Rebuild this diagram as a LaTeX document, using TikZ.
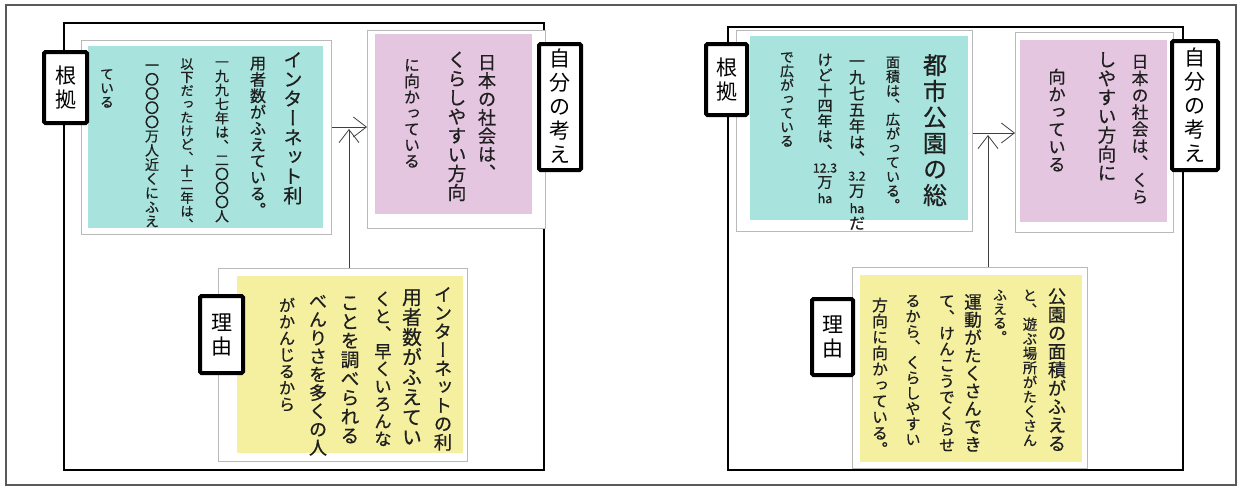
\documentclass[tikz,border=0pt]{standalone}
\usepackage{fontspec}
\usetikzlibrary{arrows.meta}
\newfontfamily\jp[RawFeature=+vert, FakeBold=0.6]{Noto Sans CJK JP}
\newfontfamily\jpl{Noto Sans CJK JP}
\definecolor{nblue}{RGB}{168,228,221}
\definecolor{npink}{RGB}{229,198,225}
\definecolor{nyellow}{RGB}{245,240,160}
\newcount\vi
\def\vend{\vend}
\def\vfs{16}
% label stacking (inside one node)
\newdimen\vadv
\def\vcell#1{\vbox to\vadv{\vss\hbox to 1em{\hss\vrule height .88em depth .12em width 0pt #1\hss}\vss}}
\def\vcolA#1{\ifx\vend#1\else\vcell{#1}\expandafter\vcolA\fi}
\newcommand\vcolS[3]{\vbox{\offinterlineskip\vadv=#2\relax\fontsize{#1}{#1}\selectfont\vcolA#3\vend}}
% handwritten columns: one node per character
\newcommand\vcolumn[5]{\def\vname{#1}\def\vx{#2}\def\vtop{#3}\def\vadvn{#4}\vi=0
 \pgfmathsetmacro\vfs{min(24,0.99*#4)}\vcolB#5\vend}
\def\vcolB#1{\ifx\vend#1\expandafter\vcolstop\else\expandafter\vcolput\fi{#1}}
\def\vcolstop#1{}
\def\vcolput#1{\advance\vi by 1\relax
 \node[hwc] (\vname-\the\vi) at (\vx,{\vtop+(\the\vi-0.5)*\vadvn}) {\vrule height .88em depth .12em width 0pt #1};\vcolB}
\newcommand\tcy[1]{{\fontsize{12.5pt}{12.5pt}\selectfont #1}}
\tikzset{
 paper/.style={rectangle, draw=gray!55, line width=0.8pt, fill=white, anchor=north west, inner sep=0pt},
 notefill/.style={rectangle, anchor=north west, inner sep=0pt, draw=none},
 lab/.style={rectangle, draw=black, line width=4pt, fill=white, rounded corners=1.5pt, inner sep=0pt, anchor=north west, font=\jpl},
 hwc/.style={anchor=center, inner sep=0pt, font={\jp\fontsize{\vfs pt}{\vfs pt}\selectfont}, text=black!88},
 conn/.style={draw=black!75, line width=0.8pt, -{Straight Barb[length=13pt,width=20pt,line width=0.8pt]}},
 frm/.style={draw=black, line width=1.6pt},
}
\begin{document}
\begin{tikzpicture}[x=1pt,y=-1pt]
\useasboundingbox (0,0) rectangle (1241,488);
\fill[white] (0,0) rectangle (1241,488);
\draw[gray!70!black, line width=1.2pt] (6,5) rectangle (1236,485);
% ---------------- left panel ----------------
\draw[frm] (64,23) rectangle (544,470);
\node[paper, minimum width=250pt, minimum height=194pt] (bLp) at (81,40) {};
\node[notefill, fill=nblue, minimum width=235pt, minimum height=182pt] (bLf) at (88,46) {};
\node[paper, minimum width=178pt, minimum height=198pt] (pLp) at (367,30) {};
\node[notefill, fill=npink, minimum width=157pt, minimum height=180pt] (pLf) at (375,34) {};
\node[paper, minimum width=249pt, minimum height=193pt] (yLp) at (218,268) {};
\node[notefill, fill=nyellow, minimum width=226pt, minimum height=177pt] (yLf) at (237,276) {};
% blue text
\vcolumn{bL1}{293}{50}{19.4}{インターネット利}
\vcolumn{bL2}{258}{55}{16.3}{用者数がふえている。}
\vcolumn{bL3}{222}{55}{14}{一九九七年は、二〇〇〇人}
\vcolumn{bL4}{187}{57}{13.4}{以下だったけど、十二年は、}
\vcolumn{bL5}{152}{58}{14.2}{一〇〇〇〇万人近くにふえ}
\vcolumn{bL6}{107}{67}{14}{ている}
% pink text
\vcolumn{pL1}{487}{53}{18.4}{日本の社会は、}
\vcolumn{pL2}{457}{50}{19}{くらしやすい方向}
\vcolumn{pL3}{412}{57}{16}{に向かっている}
% yellow text
\vcolumn{yL1}{443}{285}{18.5}{インターネットの利}
\vcolumn{yL2}{412}{287}{20}{用者数がふえてい}
\vcolumn{yL3}{383}{290}{17.5}{くと、早くいろんな}
\vcolumn{yL4}{350}{293}{19}{ことを調べられる}
\vcolumn{yL5}{318}{292}{18.3}{べんりさを多くの人}
\vcolumn{yL6}{287}{297}{16.5}{がかんじるから}
% connectors
\coordinate (hL) at (0,127);
\coordinate (vL) at (349,129);
\draw[conn] (bLp.east |- hL) -- (pLp.west |- hL);
\draw[conn] (yLp.north -| vL) -- (vL);
% labels
\node[lab, minimum width=43pt, minimum height=71pt] (kL) at (42,50) {\vcolS{21pt}{24pt}{根拠}};
\node[lab, minimum width=42pt, minimum height=126pt] (jL) at (537,42) {\vcolS{21pt}{24pt}{自分の考え}};
\node[lab, minimum width=43pt, minimum height=77pt] (rL) at (198,294) {\vcolS{21pt}{24pt}{理由}};
% ---------------- right panel ----------------
\draw[frm] (728,27) rectangle (1183,470);
\node[paper, minimum width=236pt, minimum height=201pt] (bRp) at (736,30) {};
\node[notefill, fill=nblue, minimum width=218pt, minimum height=184pt] (bRf) at (750,36) {};
\node[paper, minimum width=158pt, minimum height=200pt] (pRp) at (1015,32) {};
\node[notefill, fill=npink, minimum width=147pt, minimum height=182pt] (pRf) at (1020,40) {};
\node[paper, minimum width=235pt, minimum height=201pt] (yRp) at (852,267) {};
\node[notefill, fill=nyellow, minimum width=222pt, minimum height=187pt] (yRf) at (860,275) {};
% blue text
\vcolumn{bR1}{935}{52}{26}{都市公園の総}
\vcolumn{bR2}{893}{55}{14.3}{面積は、広がっている。}
\vcolumn{bR3}{857}{53}{16.2}{一九七五年は、{\tcy{3.2}}万{\tcy{ha}}だ}
\vcolumn{bR4}{825}{52}{15.3}{けど十四年は、{\tcy{12.3}}万{\tcy{ha}}}
\vcolumn{bR5}{787}{50}{14}{で広がっている}
% pink text
\vcolumn{pR1}{1140}{53}{16.9}{日本の社会は、くら}
\vcolumn{pR2}{1107}{50}{18.9}{しやすい方向に}
\vcolumn{pR3}{1057}{68}{17.5}{向かっている}
% yellow text
\vcolumn{yR1}{1057}{287}{18.4}{公園の面積がふえる}
\vcolumn{yR2}{1030}{288}{14.5}{と、遊ぶ場所がたくさん}
\vcolumn{yR3}{1000}{288}{14}{ふえる。}
\vcolumn{yR4}{973}{293}{17.8}{運動がたくさんでき}
\vcolumn{yR5}{947}{293}{16}{て、けんこうでくらせ}
\vcolumn{yR6}{913}{293}{15.4}{るから、くらしやすい}
\vcolumn{yR7}{880}{297}{16}{方向に向かっている。}
% connectors
\coordinate (hR) at (0,133);
\coordinate (vR) at (988,135);
\draw[conn] (bRp.east |- hR) -- (pRp.west |- hR);
\draw[conn] (yRp.north -| vR) -- (vR);
% labels
\node[lab, minimum width=41pt, minimum height=71pt] (kR) at (704,42) {\vcolS{21pt}{24pt}{根拠}};
\node[lab, minimum width=46pt, minimum height=129pt] (jR) at (1170,39) {\vcolS{21pt}{24pt}{自分の考え}};
\node[lab, minimum width=41pt, minimum height=76pt] (rR) at (810,297) {\vcolS{21pt}{24pt}{理由}};
\end{tikzpicture}
\end{document}
